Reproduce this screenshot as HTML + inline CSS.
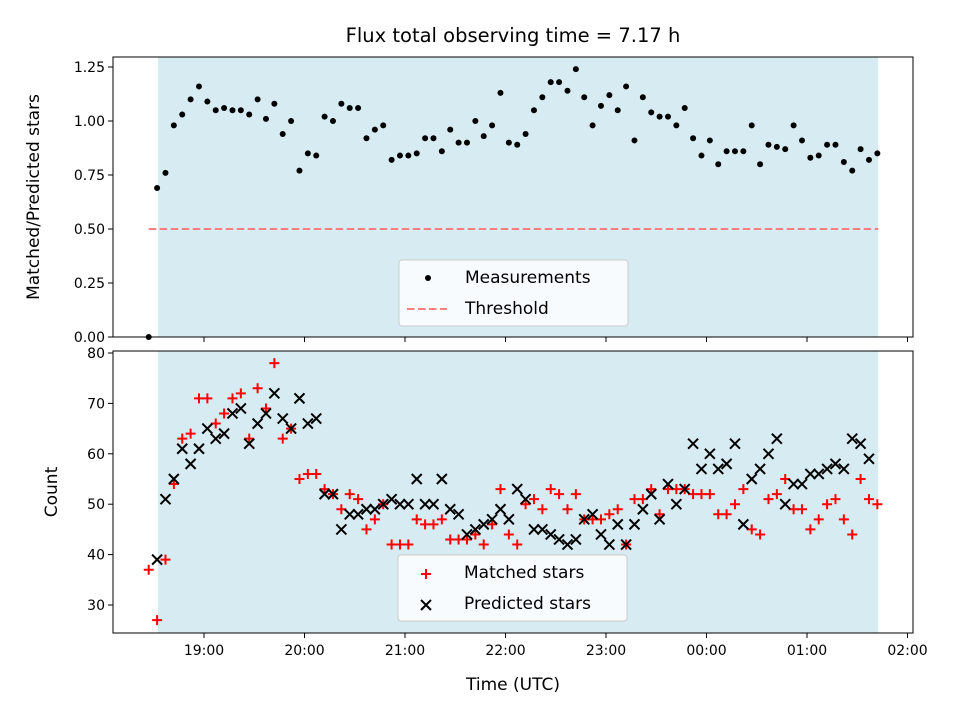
<!DOCTYPE html>
<html><head><meta charset="utf-8"><style>
body{margin:0;background:#fff}
svg{display:block;font-family:"DejaVu Sans","Liberation Sans",sans-serif}
</style></head><body>
<svg id="chart" width="960" height="720" viewBox="0 0 960 720" xmlns="http://www.w3.org/2000/svg">
<text x="513" y="42" font-size="19.5" text-anchor="middle">Flux total observing time = 7.17 h</text>
<g id="topPanel"></g><g id="botPanel"></g>
</svg>
<script>
const ratioValues=[0.0,0.69,0.76,0.98,1.03,1.10,1.16,1.09,1.05,1.06,1.05,1.05,1.03,1.10,1.01,1.08,0.94,1.00,0.77,0.85,0.84,1.02,1.00,1.08,1.06,1.06,0.92,0.96,0.98,0.82,0.84,0.84,0.85,0.92,0.92,0.86,0.96,0.90,0.90,1.00,0.93,0.98,1.13,0.90,0.89,0.94,1.05,1.11,1.18,1.18,1.14,1.24,1.11,0.98,1.07,1.12,1.05,1.16,0.91,1.11,1.04,1.02,1.02,0.98,1.06,0.92,0.84,0.91,0.80,0.86,0.86,0.86,0.98,0.80,0.89,0.88,0.87,0.98,0.91,0.83,0.84,0.89,0.89,0.81,0.77,0.87,0.82,0.85];
const matchedValues=[37,27,39,54,63,64,71,71,66,68,71,72,63,73,69,78,63,65,55,56,56,53,52,49,52,51,45,47,50,42,42,42,47,46,46,47,43,43,43,44,42,46,53,44,42,50,51,49,53,52,49,52,47,47,47,48,49,42,51,51,53,48,53,53,53,52,52,52,48,48,50,53,45,44,51,52,55,49,49,45,47,50,51,47,44,55,51,50];
const predictedValues=[null,39,51,55,61,58,61,65,63,64,68,69,62,66,68,72,67,65,71,66,67,52,52,45,48,48,49,49,50,51,50,50,55,50,50,55,49,48,44,45,46,47,49,47,53,51,45,45,44,43,42,43,47,48,44,42,46,42,46,49,52,47,54,50,53,62,57,60,57,58,62,46,55,57,60,63,50,54,54,56,56,57,58,57,63,62,59,null];
const thresholdValue=0.5;
const topTicks=[0,0.25,0.5,0.75,1.0,1.25];
const botTicks=[30,40,50,60,70,80];
const xTickLabels=["19:00","20:00","21:00","22:00","23:00","00:00","01:00","02:00"];
const startMin=18*60+27, step=5, shadeStart=18*60+32.5, shadeEnd=25*60+42.5;

const NS="http://www.w3.org/2000/svg";
const L=113,R=913;
const xs=m=>204+(m-19*60)*100.5/60;
const yTop=v=>337-v*216;
const yBot=v=>353+(80-v)*5.04;
function el(p,t,a){const e=document.createElementNS(NS,t);for(const k in a)e.setAttribute(k,a[k]);p.appendChild(e);return e;}
function panel(g,y0,y1,ticks,ys,fmt,labels,name){
  const bg=el(g,'rect',{x:xs(shadeStart),y:y0,width:xs(shadeEnd)-xs(shadeStart),height:y1-y0,fill:'#add8e6','fill-opacity':0.5});
  
  
  ticks.forEach(t=>{const y=ys(t);el(g,'line',{x1:L-5,x2:L,y1:y,y2:y,stroke:'#000'});
    const tx=el(g,'text',{x:L-8,y:y+5,'font-size':14,'text-anchor':'end'});tx.textContent=fmt(t);
    
    });
  xTickLabels.forEach((s,i)=>{const x=xs((19+i)*60);el(g,'line',{x1:x,x2:x,y1:y1,y2:y1+5,stroke:'#000'});
    if(labels){const tx=el(g,'text',{x:x,y:y1+22,'font-size':14,'text-anchor':'middle'});tx.textContent=s;
    
    }});
}
const topG=document.getElementById('topPanel'),botG=document.getElementById('botPanel');
panel(topG,57,337,topTicks,yTop,t=>t.toFixed(2),false,'ratio');
panel(botG,351,633,botTicks,yBot,t=>String(t),true,'count');
const th=el(topG,'line',{x1:xs(startMin),x2:xs(shadeEnd),y1:yTop(thresholdValue),y2:yTop(thresholdValue),stroke:'#ff7f7f','stroke-width':2,'stroke-dasharray':'7.5,3.5'});


ratioValues.forEach((v,i)=>{const c=el(topG,'circle',{cx:xs(startMin+i*step),cy:yTop(v),r:3,fill:'#000'});
  
  });
matchedValues.forEach((v,i)=>{if(v==null)return;const x=xs(startMin+i*step),y=yBot(v);
  const p=el(botG,'path',{d:`M${x-5},${y}H${x+5}M${x},${y-5}V${y+5}`,stroke:'#f00','stroke-width':2});
  
  });
predictedValues.forEach((v,i)=>{if(v==null)return;const x=xs(startMin+i*step),y=yBot(v);
  const p=el(botG,'path',{d:`M${x-5},${y-5}L${x+5},${y+5}M${x-5},${y+5}L${x+5},${y-5}`,stroke:'#000','stroke-width':2});
  
  });
[[topG,57,337],[botG,351,633]].forEach(([g,a,b])=>{const f=el(g,'rect',{x:L,y:a,width:R-L,height:b-a,fill:'none',stroke:'#000','stroke-width':1});
  
  });
function legend(g,x,y,items){const b=el(g,'rect',{x:x,y:y,width:229,height:66,rx:3,fill:'#fff','fill-opacity':0.8,stroke:'#ccc'});
  
  
  items.forEach((it,i)=>{const cy=y+17+i*31;it.mark(g,x+28,cy);const t=el(g,'text',{x:x+66,y:cy+6,'font-size':17});t.textContent=it.label;
    
    });}
legend(topG,399,260,[{label:'Measurements',mark:(g,x,y)=>el(g,'circle',{cx:x+1,cy:y+1,r:3,fill:'#000'})},
  {label:'Threshold',mark:(g,x,y)=>el(g,'line',{x1:x-20,x2:x+20,y1:y+1,y2:y+1,stroke:'#ff7f7f','stroke-width':2,'stroke-dasharray':'7.5,3.5'})}]);
legend(botG,398,555,[{label:'Matched stars',mark:(g,x,y)=>el(g,'path',{d:`M${x-5},${y+2}H${x+5}M${x},${y-3}V${y+7}`,stroke:'#f00','stroke-width':2})},
  {label:'Predicted stars',mark:(g,x,y)=>el(g,'path',{d:`M${x-5},${y-3}L${x+5},${y+7}M${x-5},${y+7}L${x+5},${y-3}`,stroke:'#000','stroke-width':2})}]);
const yt1=el(topG,'text',{x:0,y:0,'font-size':17,'text-anchor':'middle',transform:'translate(39,197) rotate(-90)'});yt1.textContent='Matched/Predicted stars';


const yt2=el(botG,'text',{x:0,y:0,'font-size':17,'text-anchor':'middle',transform:'translate(57,492) rotate(-90)'});yt2.textContent='Count';


const xt=el(botG,'text',{x:513,y:690,'font-size':17,'text-anchor':'middle'});xt.textContent='Time (UTC)';


</script>
</body></html>
